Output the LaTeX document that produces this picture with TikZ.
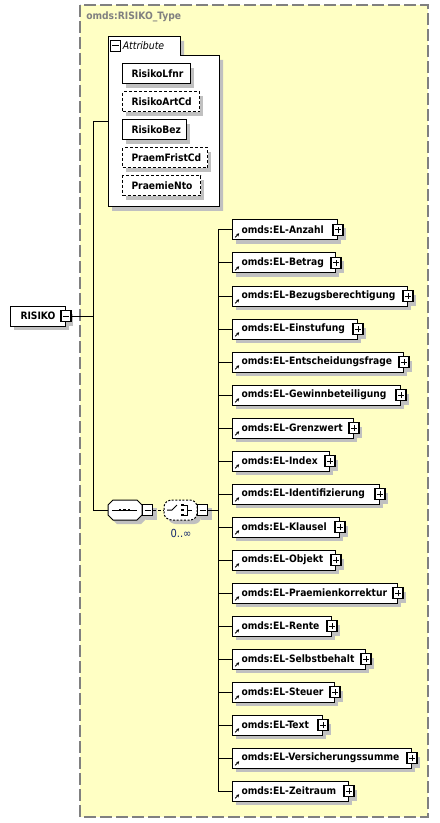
\documentclass[tikz,border=0pt]{standalone}
\usepackage{fontspec}
\setmainfont{DejaVu Sans Condensed}
\usetikzlibrary{arrows.meta}
\definecolor{bgyellow}{RGB}{255,255,196}
\definecolor{shadowgray}{RGB}{192,192,192}
\definecolor{bordergray}{RGB}{128,128,128}
\definecolor{occblue}{RGB}{20,40,110}
\tikzset{
  lbl/.style={font=\fontsize{7.65}{9}\selectfont\bfseries},
  box/.style={draw=black,line width=0.75pt,fill=white,minimum height=15pt,
    inner xsep=0pt,inner ysep=0pt,anchor=west,align=left,lbl},
  optbox/.style={box,dash pattern=on 2.25pt off 1.5pt},
  elembox/.style={box,path picture={\draw[line width=0.7pt,-{Stealth[length=2.2pt,width=2.4pt]}]
      ([xshift=2pt,yshift=2pt]path picture bounding box.south west) -- ++(3pt,3pt);}},
  sq/.style={draw=black,line width=0.9pt,fill=white,minimum width=7.5pt,minimum height=8.25pt,inner sep=0pt},
  plussq/.style={sq,path picture={\draw[line width=0.75pt]
      ([xshift=-2.4pt]path picture bounding box.center)--([xshift=2.4pt]path picture bounding box.center)
      ([yshift=-2.6pt]path picture bounding box.center)--([yshift=2.6pt]path picture bounding box.center);}},
  minussq/.style={sq,path picture={\draw[line width=0.75pt]
      ([xshift=-2.4pt]path picture bounding box.center)--([xshift=2.4pt]path picture bounding box.center);}},
  conn/.style={line width=0.75pt},
  shadowfill/.style={fill=shadowgray},
  hold/.style={minimum width=25.5pt,minimum height=15pt,inner sep=0pt}
}
\newcommand\myelem[4]{%
  \fill[shadowfill] (236,#2-6) rectangle (#3+4,#2+14);
  \fill[shadowfill] (#3-1,#2-1.5) rectangle (#3+9,#2+10);
  \pgfmathsetmacro\myboxw{(#3-232)*0.75}%
  \node[elembox,text width=\myboxw pt] (#1) at (232,#2) {\hspace*{6.75pt}omds:EL-#4};
  \node[plussq] (#1p) at (#1.east) {};
  \draw[conn] (bus) |- (#1.west);
}
\newcommand\myattr[5]{%
  \fill[shadowfill] (126,#2-6) rectangle (#3+4,#2+14);
  \pgfmathsetmacro\myboxw{(#3-122)*0.75}%
  \node[#5,text width=\myboxw pt] (#1) at (122,#2) {\hspace*{6.75pt}#4};
}
\begin{document}
\begin{tikzpicture}[x=0.75pt,y=-0.75pt]
\useasboundingbox (0,0) rectangle (439,823);
\fill[white] (0,0) rectangle (439,823);
% outer complex type box
\draw[bordergray,line width=1.1pt,dash pattern=on 9pt off 3pt,fill=bgyellow] (80,5) rectangle (428,817);
\node[anchor=west,text=bordergray,lbl,inner sep=0pt] (title) at (86,17) {omds:RISIKO\_Type};
% attribute group
\fill[shadowfill] (112,41) -- (184,41) -- (184,60) -- (223,60) -- (223,211) -- (112,211) -- cycle;
\draw[line width=0.75pt,fill=white] (108,207) -- (108,37) -- (180,37) -- (180,56) -- (219,56) -- (219,207) -- cycle;
\coordinate (attrjoin) at (108,122);
\node[minussq] (attrm) at (115.5,46) {};
\node[anchor=west,inner sep=0pt,font=\fontsize{7.8}{9}\selectfont\itshape] (attrlbl) at (122.5,46) {Attribute};
\myattr{a1}{74}{190}{RisikoLfnr}{box}
\myattr{a2}{102}{199}{RisikoArtCd}{optbox}
\myattr{a3}{130}{186}{RisikoBez}{box}
\myattr{a4}{158}{207}{PraemFristCd}{optbox}
\myattr{a5}{186}{200}{PraemieNto}{optbox}
% root element
\fill[shadowfill] (14,310) rectangle (69,330);
\fill[shadowfill] (64,314) rectangle (73,326);
\node[box,text width=41.25pt] (risiko) at (10,316) {\hspace*{7.5pt}RISIKO};
\node[minussq] (risikom) at (risiko.east) {};
\coordinate (lbus) at (93,316);
\draw[conn] (risikom.east) -- (lbus);
\draw[conn] (lbus) |- (attrjoin);
% sequence
\fill[shadowfill] (117,504) -- (141,504) -- (146,509) -- (146,519) -- (141,524) -- (117,524) -- (112,519) -- (112,509) -- cycle;
\fill[shadowfill] (146,508) rectangle (157,520);
\node[hold] (seq) at (125,510) {};
\draw[line width=0.75pt,fill=white] (113,500) -- (137,500) -- (142,505) -- (142,515) -- (137,520) -- (113,520) -- (108,515) -- (108,505) -- cycle;
\draw[line width=0.75pt] (112,510) -- (137,510);
\foreach \xx in {120,124.5,129} \fill (\xx-1.4,508.6) rectangle (\xx+1.4,511.4);
\node[minussq,anchor=west] (seqm) at (seq.east) {};
\draw[conn] (lbus) |- (seq.west);
% choice
\fill[shadowfill,rounded corners=2pt] (173,504) -- (197,504) -- (201,508) -- (201,520) -- (197,524) -- (173,524) -- (168,520) -- (168,508) -- cycle;
\fill[shadowfill] (201,508) rectangle (212,520);
\node[hold,minimum width=24.75pt] (choice) at (180.5,510) {};
\draw[line width=0.75pt,fill=white,dash pattern=on 1.5pt off 1.2pt,rounded corners=2pt] (169,500) -- (193,500) -- (197,504) -- (197,516) -- (193,520) -- (169,520) -- (164,516) -- (164,504) -- cycle;
\draw[conn,dash pattern=on 2.25pt off 1.5pt] (seqm.east) -- (choice.west);
\draw[line width=0.75pt] (167,510) -- (172,510) -- (177,505);
\foreach \yy in {505,510,515} \fill (181,\yy-1.3) rectangle (183.6,\yy+1.3);
\draw[line width=0.75pt] (183.6,505) -- (187,505) -- (187,515) -- (183.6,515) (187,510) -- (192,510);
\node[minussq,anchor=west] (choicem) at (choice.east) {};
\node[text=occblue,inner sep=0pt,font=\fontsize{8.3}{9}\selectfont] (occ) at (181,533) {0..∞};
\coordinate (bus) at (218,510);
\draw[conn] (choicem.east) -- (bus);
% elements
\myelem{e1}{230}{337}{Anzahl}
\myelem{e2}{263}{335}{Betrag}
\myelem{e3}{296}{407}{Bezugsberechtigung}
\myelem{e4}{329}{357}{Einstufung}
\myelem{e5}{362}{403}{Entscheidungsfrage}
\myelem{e6}{395}{400}{Gewinnbeteiligung}
\myelem{e7}{428}{353}{Grenzwert}
\myelem{e8}{461}{329}{Index}
\myelem{e9}{494}{379}{Identifizierung}
\myelem{e10}{527}{339}{Klausel}
\myelem{e11}{560}{335}{Objekt}
\myelem{e12}{593}{397}{Praemienkorrektur}
\myelem{e13}{626}{331}{Rente}
\myelem{e14}{659}{365}{Selbstbehalt}
\myelem{e15}{692}{334}{Steuer}
\myelem{e16}{725}{322}{Text}
\myelem{e17}{758}{411}{Versicherungssumme}
\myelem{e18}{791}{348}{Zeitraum}
\end{tikzpicture}
\end{document}
